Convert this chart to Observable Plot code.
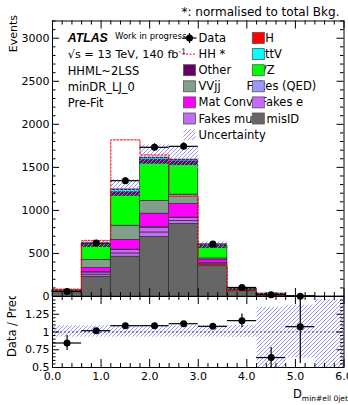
<!DOCTYPE html>
<html><head><meta charset="utf-8">
<script src="https://cdn.jsdelivr.net/npm/d3@7"></script>
<script src="https://cdn.jsdelivr.net/npm/@observablehq/plot@0.6"></script>
<style>
body{margin:0;background:#fff;}
#wrap{position:relative;width:348px;height:405px;overflow:hidden;}
#wrap > svg{position:absolute;left:0;}
</style></head><body>
<div id="wrap"></div>
<script>
// ---- data ----
const binEdges = [0, 0.6, 1.2, 1.8, 2.4, 3.0, 3.6, 4.2, 4.8, 5.4, 6.0];
const processes = ["misID", "Fakes mu", "Fakes e", "Fakes (QED)", "Mat Conv", "VVjj", "VZ", "Other", "ttV", "HH"];
const colors = ["#666666", "#c46cf5", "#cc66ff", "#9999ff", "#ff00ff", "#80a08c", "#00ff00", "#660066", "#00ffff", "#ff0000"];
const misID    = [52, 229, 462, 690, 842, 357, 66, 25, 3, 1];
const fakesMu  = [3, 25, 38, 54, 35, 13, 2, 1, 0.2, 0];
const fakesE   = [3, 25, 39, 55, 35, 14, 2, 1, 0.2, 0];
const fakesQED = [0.5, 3, 5, 5, 4, 2, 0.5, 0.2, 0, 0];
const matConv  = [3, 48, 112, 158, 158, 37, 4, 1, 0.2, 0];
const vvjj     = [2, 93, 166, 147, 109, 19, 3, 1, 0.2, 0];
const vz       = [4, 155, 349, 435, 345, 121, 10, 2, 0.3, 0];
const other    = [1, 15, 40, 46, 42, 12, 2, 0.5, 0.1, 0];
const ttV      = [0.5, 10, 25, 19, 16, 8, 1, 0.3, 0.1, 0];
const hh       = [0.3, 3, 8, 4, 4, 2, 0.3, 0.1, 0, 0];
const hhStar   = [86, 648, 1819, 1644, 1163, 357, 66, 12, 3, 1];
const dataCounts = [58, 621, 1345, 1733, 1744, 609, 105, 20, 4, 0];
const ratio      = [0.845, 1.018, 1.089, 1.089, 1.117, 1.08, 1.16, 0.64, 1.075, null];
const ratioErrLo = [0.105, 0.03, 0.03, 0.03, 0.03, 0.03, 0.095, 0.15, 0.52, null];
const ratioErrHi = [0.105, 0.03, 0.03, 0.03, 0.03, 0.03, 0.095, 0.14, 0.6, null];
const bandLo = [0.065, 0.065, 0.065, 0.065, 0.065, 0.065, 0.07, 0.5, 0.36, 0.5];
const bandHi = [0.095, 0.095, 0.095, 0.095, 0.095, 0.095, 0.1, 0.35, 0.385, 0.46];
const yTicksMain = [0, 500, 1000, 1500, 2000, 2500, 3000];
const yTicksRatio = [0.5, 0.75, 1, 1.25];
const xTicks = [0, 1, 2, 3, 4, 5, 6];

// ---- layout ----
const W = 348, mainH = 296, ratioH = 109;
const mL = 52, mR = 4.5, mainTop = 20.5, ratioBottom = 38;
const innerW = W - mL - mR;
const innerMain = mainH - mainTop;
const innerRatio = ratioH - ratioBottom;
const FONT = "DejaVu Sans";
const HATCH_COLOR = "#8a8aff";

const bins = d3.range(binEdges.length - 1).map(i => ({i, x1: binEdges[i], x2: binEdges[i + 1], xc: (binEdges[i] + binEdges[i + 1]) / 2}));
const layers = [misID, fakesMu, fakesE, fakesQED, matConv, vvjj, vz, other, ttV, hh];
const totals = bins.map(() => 0);
const stacked = [];
layers.forEach((arr, k) => bins.forEach((b, i) => {
  const y1 = totals[i], y2 = y1 + arr[i];
  totals[i] = y2;
  stacked.push({process: processes[k], x1: b.x1, x2: b.x2, y1, y2});
}));
const dataPts = bins.filter(b => dataCounts[b.i] > 0).map(b => ({...b, v: dataCounts[b.i], e: Math.sqrt(dataCounts[b.i])}));
const stepPts = binEdges.map((e, i) => ({x: e, y: hhStar[Math.min(i, hhStar.length - 1)]}));
const clampR = v => Math.max(0.5, Math.min(1.5, v));
const ratioPts = bins.filter(b => ratio[b.i] != null).map(b => ({...b, r: ratio[b.i], lo: clampR(ratio[b.i] - ratioErrLo[b.i]), hi: clampR(ratio[b.i] + ratioErrHi[b.i])}));
const mainBand = bins.map(b => ({x1: b.x1, x2: b.x2, y1: totals[b.i] * (1 - bandLo[b.i]), y2: totals[b.i] * (1 + bandHi[b.i])}));
const ratioBand = bins.map(b => ({x1: b.x1, x2: b.x2, y1: clampR(1 - bandLo[b.i]), y2: clampR(1 + bandHi[b.i])}));

// hatch lines (///) clipped to each band rectangle, built with the same scales as the charts
const xS = Plot.scale({x: {domain: [0, 6], range: [mL, W - mR]}});
const yMainS = Plot.scale({y: {domain: [0, 3200], range: [mainH, mainTop]}});
const yRatioS = Plot.scale({y: {domain: [0.5, 1.5], range: [innerRatio, 0]}});
function hatchSegments(rects, yS, step = 4) {
  const segs = [];
  for (const r of rects) {
    const X1 = xS.apply(r.x1), X2 = xS.apply(r.x2);
    const Ya = yS.apply(r.y1), Yb = yS.apply(r.y2);
    const Y1 = Math.min(Ya, Yb), Y2 = Math.max(Ya, Yb);
    if (Y2 - Y1 < 0.3) continue;
    for (let c = Math.ceil((X1 + Y1) / step) * step; c <= X2 + Y2; c += step) {
      const xa = Math.max(X1, c - Y2), xb = Math.min(X2, c - Y1);
      if (xb - xa < 0.2) continue;
      segs.push({x1: xS.invert(xa), y1: yS.invert(c - xa), x2: xS.invert(xb), y2: yS.invert(c - xb)});
    }
  }
  return segs;
}
const mainHatch = hatchSegments(mainBand, yMainS);
const ratioHatch = hatchSegments(ratioBand, yRatioS);

function frameTicks(xMajor, xMinor, yMajor, yMinor, innerH, xMajLen, xMinLen, yMajLen, yMinLen) {
  const s = {stroke: "#000", strokeWidth: 1};
  return [
    Plot.tickY(yMajor, {y: d => d, insetRight: innerW - yMajLen, ...s}),
    Plot.tickY(yMinor, {y: d => d, insetRight: innerW - yMinLen, ...s}),
    Plot.tickY(yMajor, {y: d => d, insetLeft: innerW - yMajLen, ...s}),
    Plot.tickY(yMinor, {y: d => d, insetLeft: innerW - yMinLen, ...s}),
    Plot.tickX(xMajor, {x: d => d, insetBottom: innerH - xMajLen, ...s}),
    Plot.tickX(xMinor, {x: d => d, insetBottom: innerH - xMinLen, ...s}),
    Plot.tickX(xMajor, {x: d => d, insetTop: innerH - xMajLen, ...s}),
    Plot.tickX(xMinor, {x: d => d, insetTop: innerH - xMinLen, ...s})
  ];
}
const xMinor = d3.range(0, 6.001, 0.2).map(v => +v.toFixed(1)).filter(v => Math.abs(v - Math.round(v)) > 1e-6);
const yMinorMain = d3.range(0, 3201, 100).filter(v => v % 500 !== 0);
const yMajorRatio = [0.5, 0.75, 1, 1.25, 1.5];
const yMinorRatio = d3.range(0.5, 1.5001, 0.05).map(v => +v.toFixed(2)).filter(v => Math.abs(v / 0.25 - Math.round(v / 0.25)) > 1e-6);

const mainPlot = Plot.plot({
  width: W, height: mainH,
  marginLeft: mL, marginRight: mR, marginTop: mainTop, marginBottom: 0,
  style: {background: "white", fontFamily: FONT, fontSize: "11px", overflow: "visible", color: "#000"},
  x: {domain: [0, 6], axis: null},
  y: {domain: [0, 3200], ticks: yTicksMain, tickSize: 0, tickPadding: 3, label: null, tickFormat: d => String(d)},
  color: {domain: processes, range: colors},
  marks: [
    Plot.rect(stacked, {x1: "x1", x2: "x2", y1: "y1", y2: "y2", fill: "process", stroke: "#2b2b2b", strokeWidth: 0.7}),
    Plot.link(mainHatch, {x1: "x1", y1: "y1", x2: "x2", y2: "y2", stroke: HATCH_COLOR, strokeWidth: 0.9}),
    Plot.line(stepPts, {x: "x", y: "y", curve: "step-after", stroke: "#ff0000", strokeWidth: 1, strokeDasharray: "2,1.5"}),
    Plot.ruleY(dataPts, {x1: "x1", x2: "x2", y: "v", stroke: "#000", strokeWidth: 1.2}),
    Plot.ruleX(dataPts, {x: "xc", y1: d => d.v - d.e, y2: d => d.v + d.e, stroke: "#000", strokeWidth: 1.2}),
    Plot.dot(dataPts, {x: "xc", y: "v", r: 3.5, fill: "#000", stroke: "none"}),
    ...frameTicks(xTicks, xMinor, yTicksMain, yMinorMain, innerMain, 8, 4, 7, 3.5),
    Plot.frame({stroke: "#000", strokeWidth: 1})
  ]
});

const ratioPlot = Plot.plot({
  width: W, height: ratioH,
  marginLeft: mL, marginRight: mR, marginTop: 0, marginBottom: ratioBottom,
  style: {background: "white", fontFamily: FONT, fontSize: "11px", overflow: "hidden", color: "#000"},
  x: {domain: [0, 6], ticks: xTicks, tickSize: 0, tickPadding: 5, label: null},
  y: {domain: [0.5, 1.5], ticks: yTicksRatio, tickSize: 0, tickPadding: 3, label: null, tickFormat: d => String(d)},
  marks: [
    Plot.link(ratioHatch, {x1: "x1", y1: "y1", x2: "x2", y2: "y2", stroke: HATCH_COLOR, strokeWidth: 0.9}),
    Plot.ruleY([1], {stroke: "#3a3a8c", strokeWidth: 1.2, strokeDasharray: "2,2"}),
    Plot.ruleY(ratioPts, {x1: "x1", x2: "x2", y: "r", stroke: "#000", strokeWidth: 1.2}),
    Plot.ruleX(ratioPts, {x: "xc", y1: "lo", y2: "hi", stroke: "#000", strokeWidth: 1.2}),
    Plot.dot(ratioPts, {x: "xc", y: "r", r: 3.5, fill: "#000", stroke: "none"}),
    ...frameTicks(xTicks, xMinor, yMajorRatio, yMinorRatio, innerRatio, 8, 4, 7, 3.5),
    Plot.frame({stroke: "#000", strokeWidth: 1})
  ]
});

const wrap = document.getElementById("wrap");
ratioPlot.style.top = mainH + "px";
ratioPlot.style.zIndex = 1;
mainPlot.style.top = "0px";
mainPlot.style.zIndex = 2;
wrap.appendChild(ratioPlot);
wrap.appendChild(mainPlot);

// ---- annotations ----
const ms = d3.select(mainPlot);
const g = ms.append("g").attr("font-family", FONT).attr("fill", "#000").attr("text-anchor", "start");
const txt = (sel, x, y, s, size, opts = {}) => {
  const t = sel.append("text").attr("x", x).attr("y", y).attr("dy", "0.35em").attr("font-size", size).attr("text-anchor", "start").text(s);
  Object.entries(opts).forEach(([k, v]) => t.attr(k, v));
  return t;
};
txt(g, 339.5, 11.5, "*: normalised to total Bkg.", 12, {"text-anchor": "end"});
txt(g, 13, 15, "Events", 11, {"text-anchor": "end", transform: "rotate(-90,13,15)"});
// ATLAS block
txt(g, 67.7, 38, "ATLAS", 12.3, {"font-family": "Liberation Sans", "font-weight": "bold", "font-style": "italic"});
txt(g, 115, 36.5, "Work in progress", 8.5);
const rs = txt(g, 67.7, 54.5, "\u221As = 13 TeV, 140 fb", 11.3);
rs.append("tspan").attr("dy", "-0.6em").attr("font-size", 7.5).text("-1");
txt(g, 67.7, 70.7, "HHML~2LSS", 11.5);
txt(g, 67.7, 87, "minDR_LJ_0", 11.5);
txt(g, 67.7, 103, "Pre-Fit", 11.5);

// legend
const rowY = i => 38 + 16.1 * i;
const colorOf = p => colors[processes.indexOf(p)];
const leftBoxX = 183.5, rightBoxX = 252.3, boxW = 12, boxH = 11;
const leftLabels = ["Data", "HH *", "Other", "VVjj", "Mat Conv", "Fakes mu", "Uncertainty"];
const rightLabels = [["HH", 256.5], ["ttV", 265], ["VZ", 259], ["Fakes (QED)", 246.5], ["Fakes e", 260.5], ["misID", 266.5]];
leftLabels.forEach((l, i) => txt(g, 198.5, rowY(i), l, 11.5));
rightLabels.forEach(([l, x], i) => txt(g, x, rowY(i), l, 11.5));
// data marker
const dy0 = rowY(0);
g.append("line").attr("x1", leftBoxX - 1).attr("x2", leftBoxX + boxW + 1).attr("y1", dy0).attr("y2", dy0).attr("stroke", "#000").attr("stroke-width", 1.2);
g.append("line").attr("x1", leftBoxX + 6).attr("x2", leftBoxX + 6).attr("y1", dy0 - 5).attr("y2", dy0 + 5).attr("stroke", "#000").attr("stroke-width", 1.2);
g.append("circle").attr("cx", leftBoxX + 6).attr("cy", dy0).attr("r", 3.5).attr("fill", "#000");
// HH* line
g.append("line").attr("x1", leftBoxX - 1).attr("x2", leftBoxX + boxW + 1).attr("y1", rowY(1)).attr("y2", rowY(1)).attr("stroke", "#ff0000").attr("stroke-dasharray", "2,1.5");
const box = (x, i, fill, stroke = "#555") => g.append("rect").attr("x", x).attr("y", rowY(i) - boxH / 2).attr("width", boxW).attr("height", boxH).attr("fill", fill).attr("stroke", stroke).attr("stroke-width", 0.8);
box(leftBoxX, 2, colorOf("Other"));
box(leftBoxX, 3, colorOf("VVjj"));
box(leftBoxX, 4, colorOf("Mat Conv"));
box(leftBoxX, 5, colorOf("Fakes mu"));
// hatched legend swatch for the uncertainty
{
  const X1 = leftBoxX, X2 = leftBoxX + boxW, Y1 = rowY(6) - boxH / 2, Y2 = rowY(6) + boxH / 2;
  for (let c = Math.ceil((X1 + Y1) / 4) * 4; c <= X2 + Y2; c += 4) {
    const xa = Math.max(X1, c - Y2), xb = Math.min(X2, c - Y1);
    if (xb - xa < 0.2) continue;
    g.append("line").attr("x1", xa).attr("y1", c - xa).attr("x2", xb).attr("y2", c - xb).attr("stroke", HATCH_COLOR).attr("stroke-width", 0.9);
  }
}
box(rightBoxX, 0, colorOf("HH"));
box(rightBoxX, 1, colorOf("ttV"));
box(rightBoxX, 2, colorOf("VZ"));
box(rightBoxX, 3, colorOf("Fakes (QED)"));
box(rightBoxX, 4, colorOf("Fakes e"));
box(rightBoxX, 5, colorOf("misID"));

// ratio labels
const rsel = d3.select(ratioPlot).append("g").attr("font-family", FONT).attr("fill", "#000").attr("text-anchor", "start");
txt(rsel, 12, 61, "Data / Pred.", 11.5, {transform: "rotate(-90,12,61)"});
const xl = rsel.append("text").attr("x", 293).attr("y", 98).attr("dy", "0.35em").attr("font-size", 11.5).attr("text-anchor", "start").text("D");
xl.append("tspan").attr("dy", "0.35em").attr("font-size", 7.5).text("min#ell 0jet");
</script>
</body></html>
